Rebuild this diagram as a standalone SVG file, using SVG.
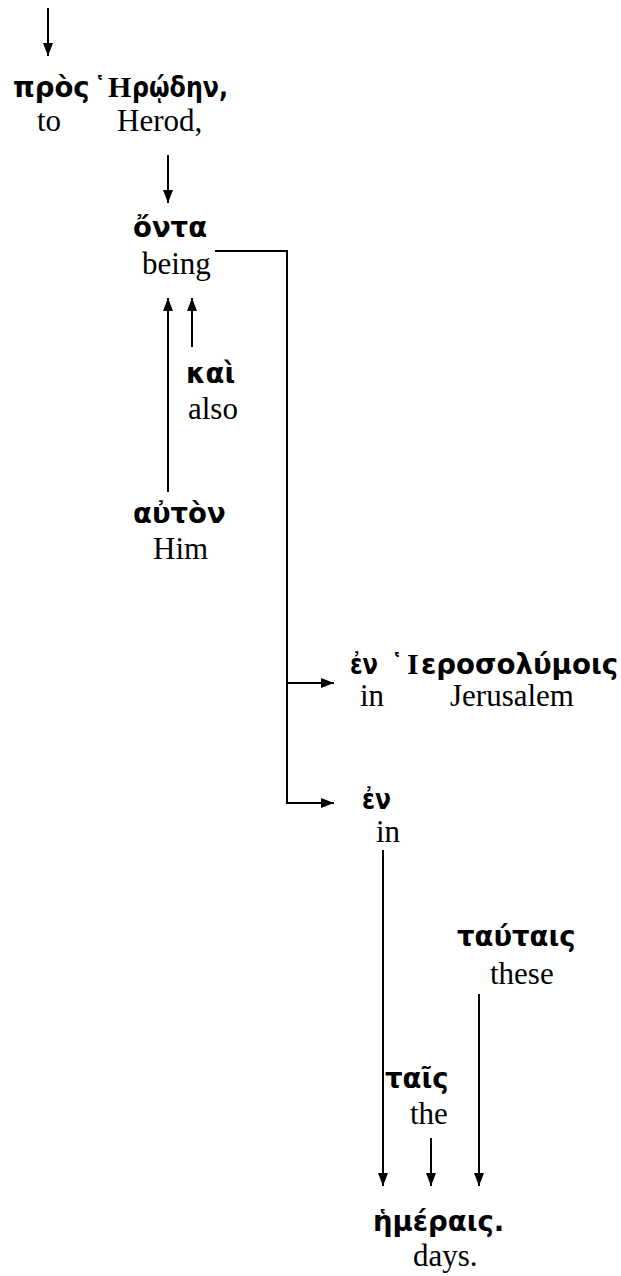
<svg xmlns="http://www.w3.org/2000/svg" width="621" height="1276" viewBox="0 0 621 1276">
<style>
.gk{font-family:"DejaVu Sans","Noto Sans",sans-serif;font-weight:bold;font-size:27.5px;fill:#000}
.cap{font-family:"Liberation Serif","Times New Roman",serif;font-weight:bold;font-size:30px;fill:#000}
.en{font-family:"Liberation Serif","Times New Roman",serif;font-size:31px;fill:#000}
.ln{stroke:#000;stroke-width:2;fill:none}
</style>
<defs>
<marker id="ah" markerUnits="userSpaceOnUse" markerWidth="16" markerHeight="16" viewBox="0 0 16 16" refX="14" refY="8" orient="auto">
<path d="M1,3 L14,8 L1,13 Z" fill="#000"/>
</marker>
</defs>
<g id="connectors">
<line class="ln" x1="48" y1="8" x2="48" y2="56" marker-end="url(#ah)"/>
<line class="ln" x1="168" y1="155" x2="168" y2="203" marker-end="url(#ah)"/>
<line class="ln" x1="168" y1="492" x2="168" y2="298" marker-end="url(#ah)"/>
<line class="ln" x1="192" y1="347" x2="192" y2="298" marker-end="url(#ah)"/>
<polyline class="ln" points="215,251 287,251 287,804"/>
<line class="ln" x1="287" y1="683" x2="334" y2="683" marker-end="url(#ah)"/>
<line class="ln" x1="286" y1="803" x2="334" y2="803" marker-end="url(#ah)"/>
<line class="ln" x1="383" y1="850" x2="383" y2="1186" marker-end="url(#ah)"/>
<line class="ln" x1="479" y1="994" x2="479" y2="1186" marker-end="url(#ah)"/>
<line class="ln" x1="431" y1="1138" x2="431" y2="1186" marker-end="url(#ah)"/>
</g>
<g id="n-pros">
<text class="gk" x="13" y="97">πρὸς</text>
<text class="gk" x="93" y="97">῾</text>
<text class="cap" x="108" y="97">Η</text>
<text class="gk" x="132" y="97" textLength="96" lengthAdjust="spacingAndGlyphs">ρῴδην,</text>
<text class="en" x="37" y="131">to</text>
<text class="en" x="117" y="131">Herod,</text>
</g>
<g id="n-onta">
<text class="gk" x="133" y="237">ὄντα</text>
<text class="en" x="142" y="274">being</text>
</g>
<g id="n-kai">
<text class="gk" x="186" y="383">καὶ</text>
<text class="en" x="188" y="419">also</text>
</g>
<g id="n-auton">
<text class="gk" x="133" y="523">αὐτὸν</text>
<text class="en" x="153" y="559">Him</text>
</g>
<g id="n-en1">
<text class="gk" x="350" y="674" textLength="28" lengthAdjust="spacingAndGlyphs">ἐν</text>
<text class="gk" x="390" y="674">῾</text>
<text class="cap" x="407" y="674">Ι</text>
<text class="gk" x="421" y="674" textLength="197" lengthAdjust="spacingAndGlyphs">εροσολύμοις</text>
<text class="en" x="360" y="706">in</text>
<text class="en" x="450" y="706">Jerusalem</text>
</g>
<g id="n-en2">
<text class="gk" x="362" y="809" textLength="29" lengthAdjust="spacingAndGlyphs">ἐν</text>
<text class="en" x="376" y="842">in</text>
</g>
<g id="n-tautais">
<text class="gk" x="457" y="946">ταύταις</text>
<text class="en" x="490" y="984">these</text>
</g>
<g id="n-tais">
<text class="gk" x="385" y="1088">ταῖς</text>
<text class="en" x="410" y="1124">the</text>
</g>
<g id="n-hemerais">
<text class="gk" x="373" y="1231">ἡμέραις.</text>
<text class="en" x="413" y="1266">days.</text>
</g>
</svg>
